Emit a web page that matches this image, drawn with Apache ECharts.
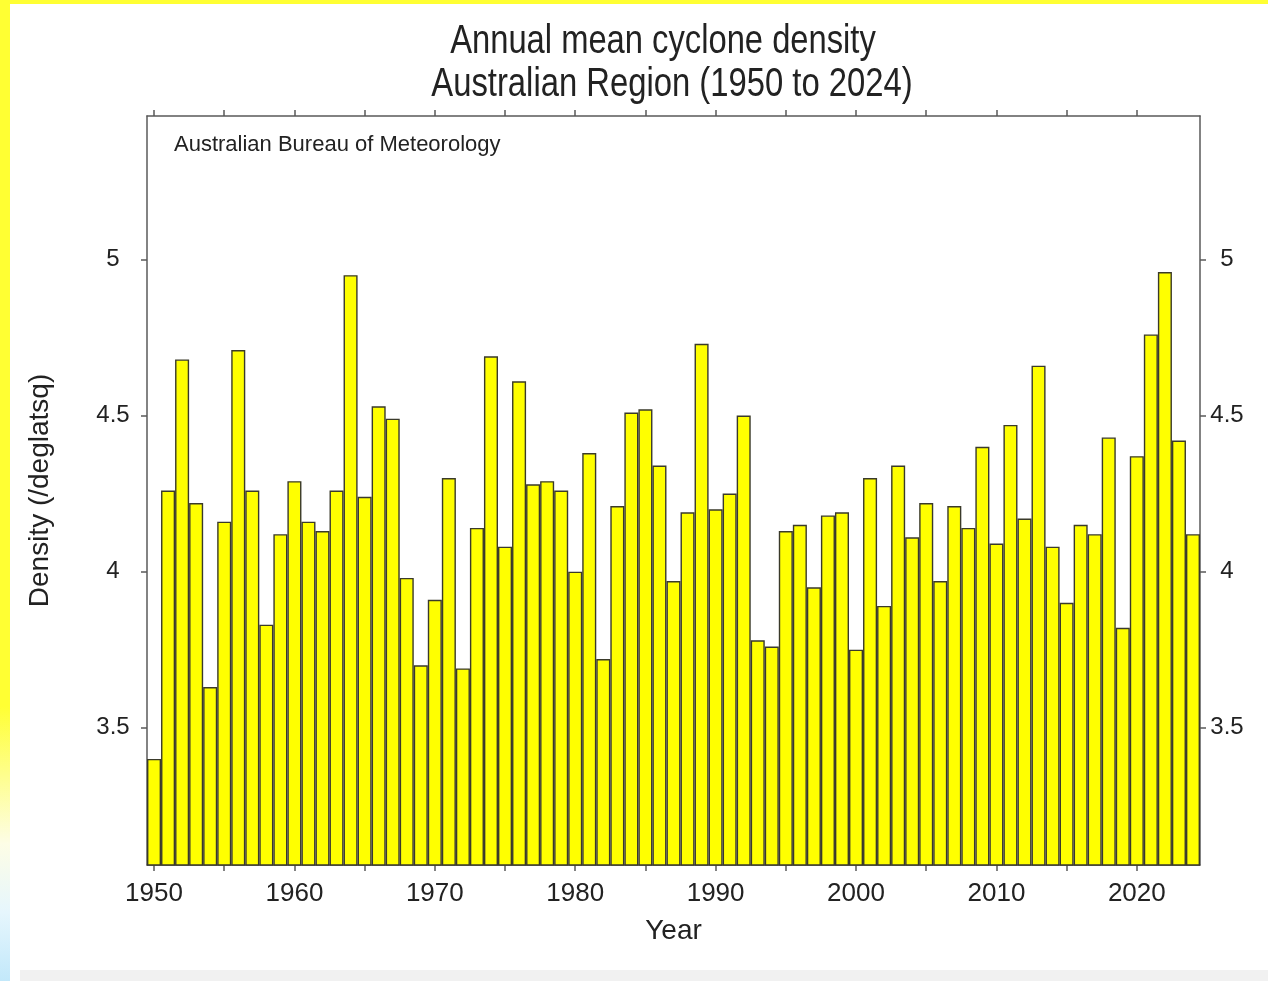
<!DOCTYPE html>
<html>
<head>
<meta charset="utf-8">
<script src="https://cdn.jsdelivr.net/npm/echarts@6/dist/echarts.min.js"></script>
<style>
  html, body { margin: 0; padding: 0; background: #ffffff; }
  #page { position: relative; width: 1268px; height: 981px; overflow: hidden; background: #ffffff; }
  #topbar { position: absolute; left: 0; top: 0; width: 1268px; height: 4px; background: #ffff33; }
  #leftbar { position: absolute; left: 0; top: 0; width: 10px; height: 981px;
    background: linear-gradient(to bottom, #ffff33 0%, #ffff33 72%, #fdfde6 86%, #e6f6fd 93%, #c2e8fa 100%); }
  #bottombar { position: absolute; left: 20px; top: 970px; width: 1248px; height: 11px; background: #f1f1f1; }
  #chart { position: absolute; left: 0; top: 0; width: 1268px; height: 981px; }
</style>
</head>
<body>
<div id="page">
  <div id="topbar"></div>
  <div id="leftbar"></div>
  <div id="bottombar"></div>
  <div id="chart"></div>
</div>
<script>
var years = [];
for (var y = 1950; y <= 2024; y++) { years.push(String(y)); }

var density = [
  3.40, 4.26, 4.68, 4.22, 3.63, 4.16, 4.71, 4.26, 3.83, 4.12,
  4.29, 4.16, 4.13, 4.26, 4.95, 4.24, 4.53, 4.49, 3.98, 3.70,
  3.91, 4.30, 3.69, 4.14, 4.69, 4.08, 4.61, 4.28, 4.29, 4.26,
  4.00, 4.38, 3.72, 4.21, 4.51, 4.52, 4.34, 3.97, 4.19, 4.73,
  4.20, 4.25, 4.50, 3.78, 3.76, 4.13, 4.15, 3.95, 4.18, 4.19,
  3.75, 4.30, 3.89, 4.34, 4.11, 4.22, 3.97, 4.21, 4.14, 4.40,
  4.09, 4.47, 4.17, 4.66, 4.08, 3.90, 4.15, 4.12, 4.43, 3.82,
  4.37, 4.76, 4.96, 4.42, 4.12
];

var yTicks = [3.5, 4, 4.5, 5];

var titleLine1 = 'Annual mean cyclone density';
var titleLine2 = 'Australian Region (1950 to 2024)';
var credit = 'Australian Bureau of Meteorology';

var chart = echarts.init(document.getElementById('chart'), null, { renderer: 'canvas' });

var textColor = '#222222';
var axisColor = '#5a5a5a';
var baseFont = 'Liberation Sans, Arial, sans-serif';

var option = {
  animation: false,
  backgroundColor: 'transparent',
  graphic: [
    { type: 'text', x: 663, y: 42, scaleX: 0.818, style: { text: titleLine1, fontSize: 40, fontFamily: baseFont, fill: textColor, textAlign: 'center', textVerticalAlign: 'middle' } },
    { type: 'text', x: 672, y: 85, scaleX: 0.82, style: { text: titleLine2, fontSize: 40, fontFamily: baseFont, fill: textColor, textAlign: 'center', textVerticalAlign: 'middle' } },
    { type: 'text', x: 174, y: 145, z: 10, style: { text: credit, fontSize: 22, fontFamily: baseFont, fill: textColor, textAlign: 'left', textVerticalAlign: 'middle' } }
  ],
  grid: { left: 147, right: 68, top: 116, bottom: 116, containLabel: false },
  xAxis: [
    {
      type: 'category',
      data: years,
      position: 'bottom',
      boundaryGap: true,
      name: 'Year',
      nameLocation: 'middle',
      nameGap: 52,
      nameTextStyle: { fontSize: 28, color: textColor, fontFamily: baseFont },
      axisLine: { show: true, lineStyle: { color: axisColor, width: 1.5 } },
      axisTick: { show: true, alignWithLabel: true, length: 6, lineStyle: { color: axisColor, width: 1.5 },
        interval: function (i) { return i % 5 === 0; } },
      axisLabel: { show: true, fontSize: 26, color: textColor, fontFamily: baseFont, margin: 16,
        interval: function (i) { return i % 10 === 0; } },
      splitLine: { show: false }
    },
    {
      type: 'category',
      data: years,
      position: 'top',
      boundaryGap: true,
      axisLine: { show: true, lineStyle: { color: axisColor, width: 1.5 } },
      axisTick: { show: true, alignWithLabel: true, length: 6, lineStyle: { color: axisColor, width: 1.5 },
        interval: function (i) { return i % 5 === 0; } },
      axisLabel: { show: false },
      splitLine: { show: false }
    }
  ],
  yAxis: [
    {
      type: 'value',
      position: 'left',
      min: 3.06,
      max: 5.46,
      name: 'Density (/deglatsq)',
      nameLocation: 'middle',
      nameGap: 93,
      nameTextStyle: { fontSize: 28, color: textColor, fontFamily: baseFont },
      axisLine: { show: true, lineStyle: { color: axisColor, width: 1.5 } },
      axisTick: { show: true, length: 6, customValues: yTicks, lineStyle: { color: axisColor, width: 1.5 } },
      axisLabel: { show: true, customValues: yTicks, fontSize: 24, color: textColor, fontFamily: baseFont, margin: 34, align: 'center' },
      splitLine: { show: false }
    },
    {
      type: 'value',
      position: 'right',
      min: 3.06,
      max: 5.46,
      axisLine: { show: true, lineStyle: { color: axisColor, width: 1.5 } },
      axisTick: { show: true, length: 6, customValues: yTicks, lineStyle: { color: axisColor, width: 1.5 } },
      axisLabel: { show: true, customValues: yTicks, fontSize: 24, color: textColor, fontFamily: baseFont, margin: 27, align: 'center' },
      splitLine: { show: false }
    }
  ],
  series: [
    {
      type: 'bar',
      xAxisIndex: 0,
      yAxisIndex: 0,
      data: density,
      barCategoryGap: '0%',
      itemStyle: { color: '#ffff00', borderColor: '#3a3a2a', borderWidth: 1.4 },
      emphasis: { disabled: true }
    }
  ]
};

chart.setOption(option);
</script>
</body>
</html>
